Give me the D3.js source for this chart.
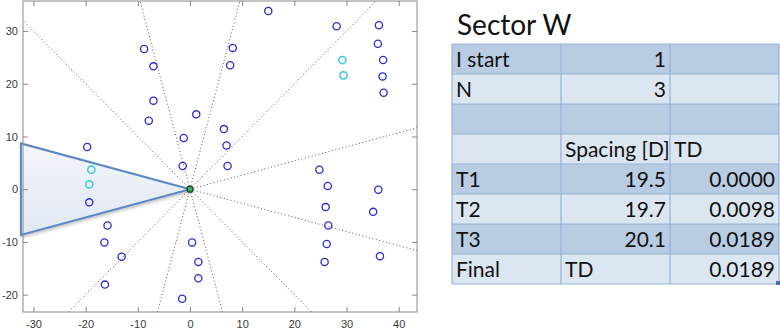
<!DOCTYPE html>
<html><head><meta charset="utf-8">
<script src="https://cdn.jsdelivr.net/npm/d3@7"></script>
<style>html,body{margin:0;padding:0;background:#fff;}svg{display:block;}</style>
</head><body>
<script>
// ---------- data ----------
const pointsX = [-8.8,-7.0,-7.0,-7.9,1.2,-1.2,-1.4,-19.7,15.0,28.1,36.2,36.0,37.0,36.9,37.1,8.2,7.7,6.5,7.0,7.2,24.8,-19.3,-15.8,-16.4,-13.1,-16.3,0.4,1.6,1.6,-1.5,26.4,26.0,26.5,26.2,25.8,36.1,35.1,36.4];
const pointsY = [26.6,23.3,16.8,13.0,14.2,9.7,4.4,8.0,33.8,30.9,31.1,27.6,24.5,21.4,18.3,26.8,23.5,11.4,8.3,4.4,3.7,-2.5,-6.9,-10.1,-12.8,-18.1,-10.1,-13.8,-16.9,-20.8,0.6,-3.4,-6.9,-10.4,-13.8,-0.1,-4.3,-12.7];
const selX = [-18.9,-19.3,29.2,29.4];
const selY = [3.7,0.9,24.5,21.6];
const rayAngles = [15,45,75,105,135,165,195,225,255,285,315,345];
const sectorAngles = [165,195];
const sectorReachX = 32.4;
const xTicks = [-30,-20,-10,0,10,20,30,40];
const yTicks = [-20,-10,0,10,20,30];
const xDomain = [-32,43.5];
const yDomain = [-23.3,35.7];

const tableTitle = "Sector W";
const colA = ["I start","N","","","T1","T2","T3","Final"];
const colB = ["1","3","","Spacing [D]","19.5","19.7","20.1","TD"];
const colC = ["","","","TD","0.0000","0.0098","0.0189","0.0189"];
const alignB = ["r","r","l","l","r","r","r","l"];
const alignC = ["r","r","l","l","r","r","r","r"];

// ---------- layout ----------
const W=780,H=332;
const svg=d3.select("body").append("svg").attr("width",W).attr("height",H);
svg.append("rect").attr("width",W).attr("height",H).attr("fill","#fff");
const defs=svg.append("defs");

const x=d3.scaleLinear().domain(xDomain).range([23,417]);
const y=d3.scaleLinear().domain(yDomain).range([312,1]);

defs.append("clipPath").attr("id","clip")
  .append("rect").attr("x",23).attr("y",1).attr("width",394).attr("height",311);
const g=svg.append("g");
const plot=g.append("g").attr("clip-path","url(#clip)");

// rays
const R=120;
plot.selectAll("line.ray").data(rayAngles).enter().append("line")
  .attr("x1",x(0)).attr("y1",y(0))
  .attr("x2",a=>x(R*Math.cos(a*Math.PI/180)))
  .attr("y2",a=>y(R*Math.sin(a*Math.PI/180)))
  .attr("stroke","#555").attr("stroke-width",1).attr("stroke-dasharray","1,2.5");

// sector triangle
const sr=sectorReachX/Math.abs(Math.cos(sectorAngles[0]*Math.PI/180));
const tri=[[0,0],...sectorAngles.map(a=>[sr*Math.cos(a*Math.PI/180),sr*Math.sin(a*Math.PI/180)])];
const grad=defs.append("linearGradient").attr("id","tg").attr("x1","0").attr("y1","0").attr("x2","0").attr("y2","1");
grad.append("stop").attr("offset","0").attr("stop-color","#f3f6fb");
grad.append("stop").attr("offset","1").attr("stop-color","#e1e8f2");
const flt=defs.append("filter").attr("id","sh").attr("x","-10%").attr("y","-10%").attr("width","130%").attr("height","140%");
flt.append("feDropShadow").attr("dx",1).attr("dy",2).attr("stdDeviation",1.5).attr("flood-color","#000").attr("flood-opacity",0.22);
g.append("path")
  .attr("d",d3.line().x(d=>x(d[0])).y(d=>y(d[1]))(tri)+"Z")
  .attr("fill","url(#tg)").attr("stroke","#5b87c2").attr("stroke-width",2)
  .attr("stroke-linejoin","miter").attr("filter","url(#sh)");

// points (above sector)
const pts=g.append("g").attr("clip-path","url(#clip)");
pts.selectAll("circle.p").data(pointsX.map((v,i)=>[v,pointsY[i]])).enter().append("circle")
  .attr("cx",d=>x(d[0])).attr("cy",d=>y(d[1])).attr("r",3.6)
  .attr("fill","none").attr("stroke","#2c2cd0").attr("stroke-width",1.3);
pts.selectAll("circle.s").data(selX.map((v,i)=>[v,selY[i]])).enter().append("circle")
  .attr("cx",d=>x(d[0])).attr("cy",d=>y(d[1])).attr("r",3.6)
  .attr("fill","none").attr("stroke","#36c8e0").attr("stroke-width",1.5);
// origin
g.append("circle").attr("cx",x(0)).attr("cy",y(0)).attr("r",3)
  .attr("fill","#3fae5c").attr("stroke","#124a25").attr("stroke-width",1.2);

// axes
const axCol="#8a8a8a";
function styleAx(sel,showLabels){
  sel.select(".domain").remove();
  sel.selectAll(".tick line").attr("stroke",axCol);
  sel.selectAll(".tick text").attr("fill","#3a3a3a").attr("font-family","Liberation Sans, Arial, sans-serif").attr("font-size",11);
  if(!showLabels) sel.selectAll(".tick text").remove();
}
const fmt=d=>String(d);
g.append("g").attr("transform",`translate(0,${y.range()[0]})`)
  .call(d3.axisBottom(x).tickValues(xTicks).tickFormat(fmt).tickSize(-5).tickPadding(8)).call(s=>styleAx(s,true));
g.append("g").attr("transform",`translate(0,${y.range()[1]})`)
  .call(d3.axisTop(x).tickValues(xTicks).tickSize(-5)).call(s=>styleAx(s,false));
g.append("g").attr("transform",`translate(${x.range()[0]},0)`)
  .call(d3.axisLeft(y).tickValues(yTicks).tickFormat(fmt).tickSize(-5).tickPadding(5)).call(s=>styleAx(s,true));
g.append("g").attr("transform",`translate(${x.range()[1]},0)`)
  .call(d3.axisRight(y).tickValues(yTicks).tickSize(-5)).call(s=>styleAx(s,false));
g.append("rect").attr("x",x.range()[0]).attr("y",y.range()[1])
  .attr("width",x.range()[1]-x.range()[0]).attr("height",y.range()[0]-y.range()[1])
  .attr("fill","none").attr("stroke",axCol).attr("stroke-width",1);

// ---------- table ----------
const tf="Lato, 'Open Sans', sans-serif";
const colEdges=[452,561,670,779];
const rowTop=44,rowH=30;
svg.append("text").attr("x",457).attr("y",35).text(tableTitle)
  .attr("font-family",tf).attr("font-size",28).attr("fill","#111");
const tg=svg.append("g");
const rows=colA.map((a,i)=>[a,colB[i],colC[i]]);
tg.selectAll("rect.row").data(rows).enter().append("rect")
  .attr("x",colEdges[0]).attr("y",(d,i)=>rowTop+i*rowH)
  .attr("width",colEdges[3]-colEdges[0]).attr("height",rowH)
  .attr("fill",(d,i)=>i%2===0?"#b8cce4":"#dce6f1");
const gridCol="#95b3d7";
d3.range(rows.length+1).forEach(i=>{
  tg.append("line").attr("x1",colEdges[0]).attr("x2",colEdges[3])
    .attr("y1",rowTop+i*rowH).attr("y2",rowTop+i*rowH).attr("stroke",gridCol).attr("stroke-width",1.2);
});
colEdges.forEach(cx=>{
  tg.append("line").attr("x1",cx).attr("x2",cx).attr("y1",rowTop).attr("y2",rowTop+rows.length*rowH)
    .attr("stroke",gridCol).attr("stroke-width",1.2);
});
rows.forEach((r,i)=>{
  const base=rowTop+i*rowH+23;
  const al=["l",alignB[i],alignC[i]];
  r.forEach((t,j)=>{
    if(!t) return;
    const left=al[j]==="l";
    tg.append("text").attr("x",left?colEdges[j]+4:colEdges[j+1]-4).attr("y",base)
      .attr("text-anchor",left?"start":"end").text(t)
      .attr("font-family",tf).attr("font-size",21).attr("fill","#111");
  });
});
tg.append("rect").attr("x",colEdges[3]-3).attr("y",rowTop+rows.length*rowH-3)
  .attr("width",4).attr("height",4).attr("fill","#4a6fc0");
</script>
</body></html>
